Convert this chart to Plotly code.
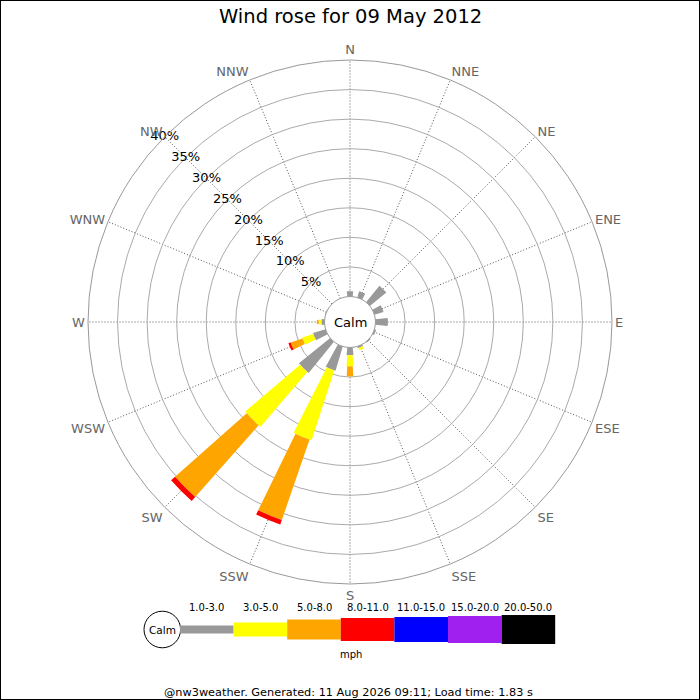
import plotly.graph_objects as go

# ---------------- data ----------------
directions = ['N', 'NNE', 'NE', 'ENE', 'E', 'ESE', 'SE', 'SSE',
              'S', 'SSW', 'SW', 'WSW', 'W', 'WNW', 'NW', 'NNW']
speed_bins = ['1.0-3.0', '3.0-5.0', '5.0-8.0', '8.0-11.0',
              '11.0-15.0', '15.0-20.0', '20.0-50.0']
bin_colors = ['#999999', '#ffff00', '#ffa500', '#ff0000',
              '#0000ff', '#a020f0', '#000000']

# percentage of time per direction, per speed bin (mph)
pct_1_3 = [0.9, 1.1, 3.6, 1.6, 2.1, 0.3, 0.2, 0.3, 1.3, 4.3, 6.8, 2.2, 0.5, 0.1, 0.0, 0.0]
pct_3_5 = [0.0, 0.0, 0.0, 0.0, 0.0, 0.0, 0.0, 0.4, 1.9, 12.4, 12.2, 2.0, 0.5, 0.0, 0.0, 0.0]
pct_5_8 = [0.0, 0.0, 0.0, 0.0, 0.0, 0.0, 0.0, 0.0, 1.7, 14.4, 16.2, 2.1, 0.3, 0.0, 0.0, 0.0]
pct_8_11 = [0.0, 0.0, 0.0, 0.0, 0.0, 0.0, 0.0, 0.0, 0.0, 0.8, 0.9, 0.4, 0.0, 0.0, 0.0, 0.0]
pct_11_15 = [0.0] * 16
pct_15_20 = [0.0] * 16
pct_20_50 = [0.0] * 16
series = [pct_1_3, pct_3_5, pct_5_8, pct_8_11, pct_11_15, pct_15_20, pct_20_50]

radial_ticks = [0, 5, 10, 15, 20, 25, 30, 35, 40]
radial_labels = ['' if v == 0 else f'{v}%' for v in radial_ticks]
label_direction = 'NW'   # radial scale labels are written along this spoke

title_text = 'Wind rose for 09 May 2012'
unit_text = 'mph'
footer_text = '@nw3weather. Generated: 11 Aug 2026 09:11; Load time: 1.83 s'

# ---------------- styles ----------------
FONT = 'DejaVu Sans'
bar_widths = [12, 9, 7, 7, 7, 7, 7]          # angular width (deg) per speed bin
legend_heights = [8, 14, 20, 23, 25, 27, 29]  # px, legend strip heights
W = H = 700

theta = [i * 360 / len(directions) for i in range(len(directions))]

fig = go.Figure()
for name, vals, col, wd in zip(speed_bins, series, bin_colors, bar_widths):
    fig.add_trace(go.Barpolar(
        r=vals, theta=theta, width=wd, name=name,
        marker=dict(color=col, line=dict(width=0)),
        showlegend=False, hoverinfo='skip'))

# radial scale labels, centred on the NW spoke
lab_theta = theta[directions.index(label_direction)]
fig.add_trace(go.Scatterpolar(
    r=radial_ticks[1:], theta=[lab_theta] * (len(radial_ticks) - 1),
    text=radial_labels[1:], mode='text', textposition='middle center',
    textfont=dict(family=FONT, size=13, color='black'),
    cliponaxis=False, showlegend=False, hoverinfo='skip'))

cx, cy, R = 350, 322, 262
fig.update_layout(
    width=W, height=H,
    margin=dict(l=0, r=0, t=0, b=0),
    paper_bgcolor='white', plot_bgcolor='white',
    font=dict(family=FONT, color='black'),
    polar=dict(
        domain=dict(x=[(cx - R) / W, (cx + R) / W],
                    y=[1 - (cy + R) / H, 1 - (cy - R) / H]),
        hole=25.5 / R,
        barmode='stack',
        bgcolor='white',
        radialaxis=dict(
            range=[0, 40], angle=135,
            tickmode='array', tickvals=radial_ticks, ticktext=radial_labels,
            showticklabels=False, showline=False, ticks='',
            gridcolor='#aaaaaa', gridwidth=1),
        angularaxis=dict(
            direction='clockwise', rotation=90,
            tickmode='array', tickvals=theta, ticktext=directions,
            ticks='', showline=True, linecolor='#999999', linewidth=1,
            gridcolor='#555555', griddash='1px,2px', gridwidth=1,
            tickfont=dict(family=FONT, size=13, color='#666666')),
    ),
)

shapes = []
annotations = []

# title
annotations.append(dict(text=title_text, x=0.5, y=1 - 17 / H, xref='paper', yref='paper',
                        showarrow=False, xanchor='center', yanchor='middle',
                        font=dict(family=FONT, size=19.5, color='black')))
# calm label
annotations.append(dict(text='Calm', x=cx / W, y=1 - cy / H, xref='paper', yref='paper',
                        showarrow=False, xanchor='center', yanchor='middle',
                        font=dict(family=FONT, size=13, color='black')))

# legend strip
ly = 629.5
lx0 = 180.0
seg = 53.6
calm_r = 18.3
shapes.append(dict(type='circle', xref='paper', yref='paper',
                   x0=(162.3 - calm_r) / W, x1=(162.3 + calm_r) / W,
                   y0=1 - (ly + calm_r) / H, y1=1 - (ly - calm_r) / H,
                   line=dict(color='black', width=1), fillcolor='white'))
annotations.append(dict(text='Calm', x=162.3 / W, y=1 - ly / H, xref='paper', yref='paper',
                        showarrow=False, xanchor='center', yanchor='middle',
                        font=dict(family=FONT, size=10.5, color='black')))
for i, (lab, col, hgt) in enumerate(zip(speed_bins, bin_colors, legend_heights)):
    x0 = lx0 + i * seg
    shapes.append(dict(type='rect', xref='paper', yref='paper',
                       x0=x0 / W, x1=(x0 + seg) / W,
                       y0=1 - (ly + hgt / 2) / H, y1=1 - (ly - hgt / 2) / H,
                       line=dict(width=0), fillcolor=col))
    annotations.append(dict(text=lab, x=(x0 + seg / 2) / W, y=1 - 607 / H,
                            xref='paper', yref='paper', showarrow=False,
                            xanchor='center', yanchor='middle',
                            font=dict(family=FONT, size=10, color='black')))
annotations.append(dict(text=unit_text, x=351 / W, y=1 - 654 / H, xref='paper', yref='paper',
                        showarrow=False, xanchor='center', yanchor='middle',
                        font=dict(family=FONT, size=10, color='black')))
annotations.append(dict(text=footer_text, x=348 / W, y=1 - 692 / H, xref='paper', yref='paper',
                        showarrow=False, xanchor='center', yanchor='middle',
                        font=dict(family=FONT, size=11.3, color='black')))
# image border
shapes.append(dict(type='rect', xref='paper', yref='paper', x0=0, x1=1, y0=0, y1=1,
                   line=dict(color='black', width=2), fillcolor='rgba(0,0,0,0)'))

fig.update_layout(shapes=shapes, annotations=annotations)
fig.write_html('out.html', config={'displayModeBar': False},
               post_script="document.body.style.margin='0';document.body.style.overflow='hidden';")
